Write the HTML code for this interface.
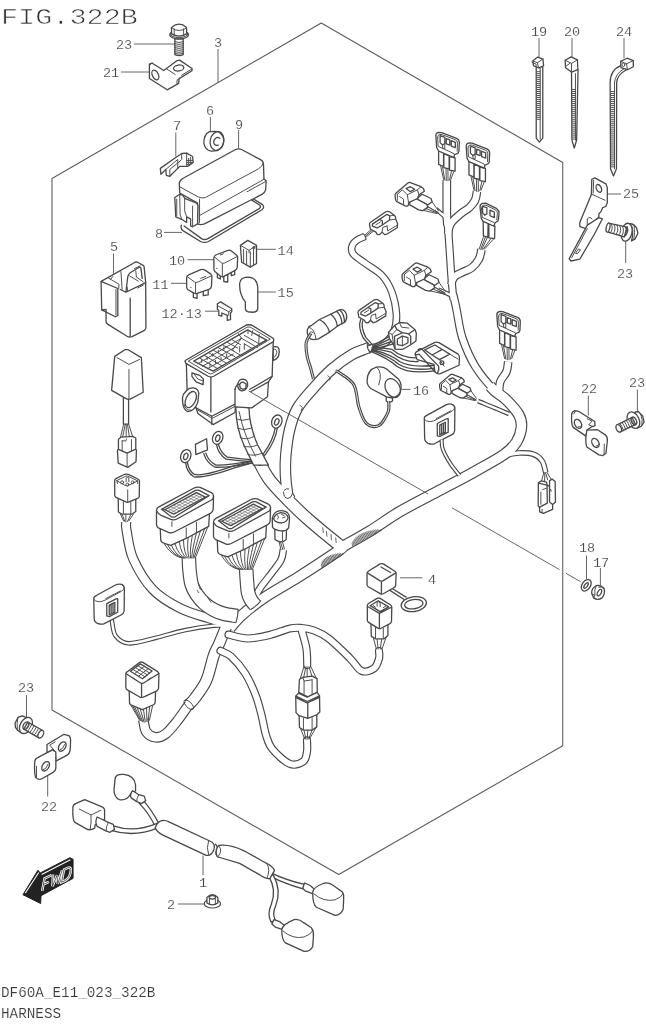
<!DOCTYPE html>
<html><head><meta charset="utf-8">
<style>
html,body{margin:0;padding:0;background:#fff;}
svg{display:block;will-change:transform;}
text{font-family:"Liberation Mono",monospace;fill:#4a4a4a;}
path,ellipse,line,circle,rect,polyline,polygon{vector-effect:non-scaling-stroke;}
.l{font-size:13.5px;text-anchor:middle;stroke:#fff;stroke-width:0.15px;fill:#383838}
.s{fill:none;stroke:#484848;stroke-width:1.3;stroke-linecap:round;stroke-linejoin:round;}
.w{fill:#fff;stroke:#484848;stroke-width:1.3;stroke-linecap:round;stroke-linejoin:round;}
.t{fill:none;stroke:#505050;stroke-width:1.0;stroke-linecap:round;stroke-linejoin:round;}
.ld{fill:none;stroke:#555;stroke-width:0.9;}
</style></head><body>
<svg width="646" height="1024" viewBox="0 0 646 1024">
<rect width="646" height="1024" fill="#fff"/>
<defs>
<g id="c3">
 <path class="t" d="M125 325 L150 440 M140 330 L160 445 M170 350 L172 450 M185 352 L186 450 M215 368 L198 445 M235 370 L208 440"/>
 <path class="w" d="M110 205 V318 L150 335 V225 Z M152 232 V345 L195 355 V250 Z M198 255 V365 L243 372 V265 Z"/>
 <path class="w" d="M88 92 Q84 66 112 60 L135 62 L255 108 Q277 118 277 142 L274 212 Q270 232 252 234 L238 240 L234 264 L110 210 L94 182 Z"/>
 <path class="t" d="M102 102 Q98 80 120 76 L138 78 L243 118 Q262 126 262 146 L260 212 M102 102 L106 172 L236 232 L240 238"/>
 <path class="s" d="M122 86 L160 100 L160 150 L142 162 L122 142 Z M172 110 L200 120 L200 162 L172 152 Z M212 127 L245 140 L245 182 L212 170 Z"/>
 <path class="t" d="M142 162 L142 185 L160 192 L160 150"/>
</g>

<g id="ch">
 <path class="t" d="M345 297 L428 342 M375 250 L432 330 M275 318 L420 352 M332 287 L430 346 M300 300 L425 348"/>
 <path class="w" d="M262 225 L300 196 L372 230 L380 256 L345 282 L270 242 Z"/>
 <path class="w" d="M200 255 L245 228 L338 278 L345 302 L305 328 L272 322 L200 282 Z"/>
 <path class="w" d="M82 205 Q80 195 90 185 L185 105 Q195 98 205 102 L290 135 L310 150 L318 172 L275 200 L262 230 L195 262 L185 290 Q170 295 160 288 L95 255 Q82 245 82 205 Z"/>
 <path class="s" d="M170 150 L205 135 L240 155 L205 175 Z"/>
 <path class="t" d="M100 195 L100 245 M100 195 L140 160 L180 200 L190 262 M180 200 L262 160 L290 135 M262 160 L275 200 M118 215 L150 235 L150 275"/>
</g>
<g id="cg">
 <path class="w" d="M238 235 Q238 225 250 218 L370 135 Q385 128 400 135 L440 165 Q452 175 450 195 L465 230 L462 265 L380 315 L360 320 L340 300 L320 320 L300 318 L290 300 L245 275 Z"/>
 <path class="s" d="M262 235 L318 197 L342 208 L342 242 L300 266 L262 252 Z M318 197 L378 157 L402 168 L400 202 L342 242"/>
 <path class="t" d="M290 240 L325 218 M402 168 L440 165 M400 202 L450 195 M380 250 L385 290 L460 245 M340 300 L345 262 L380 250"/>
</g>

<g id="bx">
 <path class="w" d="M75 195 Q72 175 95 165 L250 80 Q275 68 300 75 Q322 85 322 110 L320 290 Q318 310 295 322 L160 392 Q135 402 105 390 Q78 378 78 350 Z"/>
 <path class="t" d="M75 195 Q85 215 120 215 Q150 212 170 200 L300 130 Q320 115 322 100 M172 190 L290 128"/>
 <path class="s" d="M180 230 L255 192 L268 190 L268 300 L200 335 L180 330 Z M200 242 L245 220 L245 300 L200 320 Z M215 240 V312 M230 232 V305"/>
</g>

<g id="bc">
 <path class="t" d="M78 345 Q115 408 172 420 M95 350 Q127 410 179 420 M115 352 Q140 411 185 420 M135 345 Q153 408 192 420 M158 335 Q168 402 198 420 M180 322 Q182 396 205 420 M205 310 Q198 390 211 420 M228 298 Q213 384 218 420 M250 285 Q227 378 224 420 M272 272 Q241 371 231 420 M295 260 Q256 365 237 420 M312 250 Q268 360 244 420 "/>
 <path class="w" d="M55 255 L58 325 Q62 338 80 342 L112 352 L200 312 L255 282 L316 250 L320 180 Z"/>
 <path class="t" d="M195 258 V312 M250 228 V284"/>
 <path class="w" d="M35 165 Q35 152 48 145 L240 42 Q255 35 270 40 L330 68 Q342 75 342 88 L340 160 Q338 172 325 180 L130 280 Q115 288 100 282 L45 258 Q35 252 35 240 Z"/>
 <path class="s" d="M38 170 Q45 185 60 190 L112 212 Q130 218 145 210 L335 105 Q342 98 342 88"/>
 <path class="s" d="M62 158 L245 56 Q255 52 265 56 L318 84 L135 198 Q125 202 115 198 Z"/>
 <path class="s" d="M80 160 L250 68 L298 92 L128 184 Z"/>
 <path d="M96 168 L266 76 M112 176 L282 84 M95 152 L143 176 M111 143 L159 167 M126 135 L174 159 M142 127 L190 151 M157 118 L205 142 M173 110 L221 134 M188 101 L236 125 M204 93 L252 117 M219 85 L267 109 M235 76 L283 100 " fill="none" stroke="#707070" stroke-width="0.7"/>
 <path class="t" d="M118 225 V250 M300 92 L318 84 M80 160 L62 158"/>
</g>
</defs>

<!-- TITLE -->
<text x="1" y="24.3" font-size="28.2" transform="translate(1,24.3) scale(1.012,0.806) translate(-1,-24.3)" style="fill:#333;stroke:#fff;stroke-width:0.8px">FIG.322B</text>
<text x="1" y="996.5" font-size="14.3" style="stroke:#fff;stroke-width:0.15px;fill:#383838">DF60A_E11_023_322B</text>
<text x="1" y="1017.5" font-size="14.3" style="stroke:#fff;stroke-width:0.15px;fill:#383838">HARNESS</text>
<!-- HEX -->
<g id="hex" class="s" style="stroke:#5a5a5a;stroke-width:1.05">
<path d="M321.25 23 L52 178.5 L52 710 L338.75 874.5 L562.75 745.75 L562.75 162.5 Z"/>
</g>
<g id="cables">
<path d="M369.0 347.5 C368.6 347.7 369.3 347.3 366.5 348.5 C363.7 349.7 357.8 351.1 352.0 354.5 C346.2 357.9 338.2 363.6 332.0 369.0 C325.8 374.4 320.2 380.5 314.5 387.0 C308.8 393.5 301.7 400.8 297.5 408.0 C293.3 415.2 291.4 422.2 289.5 430.0 C287.6 437.8 286.5 447.5 285.8 455.0 C285.1 462.5 285.2 468.6 285.5 475.0 C285.8 481.4 286.8 489.5 287.5 493.5 C288.2 497.5 289.6 498.1 290.0 499.0" fill="none" stroke="#484848" stroke-width="11.65" stroke-linecap="butt"/>
<path d="M126.3 522.0 C126.3 523.3 125.3 523.9 126.5 530.0 C127.7 536.1 128.8 548.9 133.2 558.8 C137.6 568.7 144.9 581.2 152.7 589.4 C160.4 597.6 170.4 603.2 179.7 608.0 C189.0 612.8 200.1 615.5 208.5 618.2 C216.9 620.9 226.4 623.0 230.0 624.0" fill="none" stroke="#484848" stroke-width="10.15" stroke-linecap="butt"/>
<path d="M110.8 617.0 C111.0 617.7 111.1 617.9 111.9 621.0 C112.7 624.1 112.8 632.2 115.6 635.9 C118.4 639.6 121.8 643.0 128.6 643.3 C135.4 643.6 147.1 639.9 156.4 637.7 C165.7 635.5 174.7 632.3 184.3 630.3 C193.9 628.3 206.4 626.4 214.0 625.7 C221.6 625.0 227.3 626.0 230.0 626.0" fill="none" stroke="#484848" stroke-width="4.65" stroke-linecap="butt"/>
<path d="M342.0 547.0 C341.4 547.6 345.8 545.7 338.6 550.6 C331.4 555.5 311.4 568.8 299.0 576.6 C286.6 584.4 273.8 591.2 264.3 597.6 C254.8 604.0 247.7 609.9 242.0 615.0 C236.3 620.1 232.0 625.8 230.0 628.0" fill="none" stroke="#484848" stroke-width="11.65" stroke-linecap="butt"/>
<path d="M257.0 455.0 C257.3 456.1 256.9 457.2 259.0 461.4 C261.1 465.6 264.8 473.5 269.7 480.0 C274.6 486.5 281.9 493.9 288.3 500.4 C294.7 506.9 299.8 511.9 307.8 519.0 C315.9 526.1 330.7 538.3 336.6 543.0 C342.5 547.7 341.9 546.3 343.0 547.0" fill="none" stroke="#484848" stroke-width="13.15" stroke-linecap="butt"/>
<path d="M283.4 549.5 C283.0 551.2 282.9 556.1 281.0 560.0 C279.1 563.9 275.0 568.5 271.7 573.0 C268.4 577.5 263.9 582.7 261.1 586.7 C258.3 590.7 256.0 595.3 255.0 597.0" fill="none" stroke="#484848" stroke-width="7.65" stroke-linecap="butt"/>
<path d="M446.8 180.0 C446.8 185.7 446.7 206.3 446.8 214.0 C446.9 221.7 447.5 224.0 447.6 226.0" fill="none" stroke="#484848" stroke-width="8.75" stroke-linecap="butt"/>
<path d="M447.3 220.0 C447.5 221.8 447.9 226.1 448.3 231.0 C448.7 235.9 449.1 242.3 449.6 249.5 C450.1 256.7 450.7 267.6 451.2 274.3 C451.7 281.1 452.1 285.7 452.5 290.0 C452.9 294.3 453.4 298.3 453.6 300.0" fill="none" stroke="#484848" stroke-width="8.15" stroke-linecap="butt"/>
<path d="M453.0 294.0 C453.2 295.0 453.8 297.0 454.5 300.0 C455.2 303.0 455.7 305.7 457.0 312.0 C458.3 318.3 459.3 328.9 462.4 338.0 C465.5 347.1 470.0 357.9 475.5 366.8 C481.0 375.7 490.2 386.0 495.4 391.5 C500.6 397.0 504.6 398.6 506.5 400.0" fill="none" stroke="#484848" stroke-width="8.55" stroke-linecap="butt"/>
<path d="M435.8 209.0 C437.1 210.1 441.4 213.6 443.3 215.3 C445.2 217.0 446.4 218.4 447.0 219.0" fill="none" stroke="#484848" stroke-width="4.65" stroke-linecap="butt"/>
<path d="M438.3 289.6 C440.1 290.4 446.9 293.4 449.4 294.5 C451.8 295.6 452.4 295.8 453.0 296.0" fill="none" stroke="#484848" stroke-width="4.65" stroke-linecap="butt"/>
<path d="M478.0 401.0 C480.8 402.2 489.8 405.8 495.0 408.0 C500.2 410.2 506.7 413.0 509.0 414.0" fill="none" stroke="#484848" stroke-width="4.65" stroke-linecap="butt"/>
<path d="M490.0 386.0 C490.9 386.9 492.6 389.2 495.4 391.5 C498.1 393.8 502.6 396.1 506.5 400.0 C510.4 403.9 516.4 410.4 518.9 414.9 C521.4 419.4 521.8 422.7 521.4 427.2 C521.0 431.7 519.3 437.6 516.4 442.1 C513.5 446.7 511.0 449.6 504.0 454.5 C497.0 459.4 485.4 465.6 474.3 471.8 C463.2 478.0 449.6 485.0 437.2 491.6 C424.8 498.2 411.2 504.9 400.0 511.5 C388.8 518.1 379.7 525.1 370.0 531.0 C360.3 536.9 346.7 544.3 342.0 547.0" fill="none" stroke="#484848" stroke-width="11.65" stroke-linecap="butt"/>
<path d="M448.2 234.0 C448.3 233.2 448.2 230.9 448.8 229.0 C449.4 227.1 449.5 225.1 451.5 222.5 C453.5 219.9 457.9 216.1 460.9 213.6 C463.9 211.1 467.1 209.8 469.5 207.5 C471.9 205.2 473.9 202.7 475.2 200.0 C476.4 197.3 476.7 192.8 477.0 191.3" fill="none" stroke="#484848" stroke-width="8.65" stroke-linecap="butt"/>
<path d="M451.5 285.0 C451.7 284.2 451.8 281.6 452.5 280.0 C453.2 278.4 454.2 276.8 456.0 275.5 C457.8 274.2 460.3 273.3 463.0 272.0 C465.7 270.7 469.3 269.7 472.0 267.5 C474.7 265.3 477.4 262.0 479.0 259.0 C480.6 256.0 481.1 251.1 481.5 249.5" fill="none" stroke="#484848" stroke-width="8.65" stroke-linecap="butt"/>
<path d="M508.2 361.8 C507.9 363.4 507.8 368.4 506.5 371.7 C505.2 375.0 501.6 377.9 500.3 381.6 C499.1 385.3 499.2 391.9 499.0 394.0" fill="none" stroke="#484848" stroke-width="8.65" stroke-linecap="butt"/>
<path d="M505.0 455.5 C507.3 455.1 513.9 453.2 518.6 453.0 C523.3 452.8 529.5 452.9 533.4 454.2 C537.3 455.5 540.0 457.9 542.1 461.0 C544.2 464.1 545.2 470.8 545.8 472.8" fill="none" stroke="#484848" stroke-width="5.65" stroke-linecap="butt"/>
<path d="M189.5 704.0 C189.2 704.3 190.1 703.2 188.0 706.0 C185.9 708.8 180.9 716.4 177.2 721.0 C173.5 725.6 169.2 731.2 165.6 733.9 C162.0 736.6 158.7 737.6 155.5 737.3 C152.3 737.0 148.3 734.9 146.3 731.9 C144.3 728.9 143.8 721.6 143.3 719.5" fill="none" stroke="#484848" stroke-width="10.65" stroke-linecap="butt"/>
<path d="M229.0 622.0 C228.4 623.0 227.4 624.1 225.7 627.9 C224.0 631.7 220.7 640.0 218.7 644.6 C216.7 649.2 215.8 649.7 213.7 655.7 C211.6 661.7 209.3 673.8 206.2 680.8 C203.1 687.8 197.9 694.0 195.0 698.0 C192.1 702.0 189.8 703.7 188.8 704.8" fill="none" stroke="#484848" stroke-width="12.15" stroke-linecap="butt"/>
<path d="M369.0 347.5 C368.6 347.7 369.3 347.3 366.5 348.5 C363.7 349.7 357.8 351.1 352.0 354.5 C346.2 357.9 338.2 363.6 332.0 369.0 C325.8 374.4 320.2 380.5 314.5 387.0 C308.8 393.5 301.7 400.8 297.5 408.0 C293.3 415.2 291.4 422.2 289.5 430.0 C287.6 437.8 286.5 447.5 285.8 455.0 C285.1 462.5 285.2 468.6 285.5 475.0 C285.8 481.4 286.8 489.5 287.5 493.5 C288.2 497.5 289.6 498.1 290.0 499.0" fill="none" stroke="#fff" stroke-width="9.35" stroke-linecap="butt"/>
<path d="M126.3 522.0 C126.3 523.3 125.3 523.9 126.5 530.0 C127.7 536.1 128.8 548.9 133.2 558.8 C137.6 568.7 144.9 581.2 152.7 589.4 C160.4 597.6 170.4 603.2 179.7 608.0 C189.0 612.8 200.1 615.5 208.5 618.2 C216.9 620.9 226.4 623.0 230.0 624.0" fill="none" stroke="#fff" stroke-width="7.85" stroke-linecap="butt"/>
<path d="M110.8 617.0 C111.0 617.7 111.1 617.9 111.9 621.0 C112.7 624.1 112.8 632.2 115.6 635.9 C118.4 639.6 121.8 643.0 128.6 643.3 C135.4 643.6 147.1 639.9 156.4 637.7 C165.7 635.5 174.7 632.3 184.3 630.3 C193.9 628.3 206.4 626.4 214.0 625.7 C221.6 625.0 227.3 626.0 230.0 626.0" fill="none" stroke="#fff" stroke-width="2.35" stroke-linecap="butt"/>
<path d="M342.0 547.0 C341.4 547.6 345.8 545.7 338.6 550.6 C331.4 555.5 311.4 568.8 299.0 576.6 C286.6 584.4 273.8 591.2 264.3 597.6 C254.8 604.0 247.7 609.9 242.0 615.0 C236.3 620.1 232.0 625.8 230.0 628.0" fill="none" stroke="#fff" stroke-width="9.35" stroke-linecap="butt"/>
<path d="M257.0 455.0 C257.3 456.1 256.9 457.2 259.0 461.4 C261.1 465.6 264.8 473.5 269.7 480.0 C274.6 486.5 281.9 493.9 288.3 500.4 C294.7 506.9 299.8 511.9 307.8 519.0 C315.9 526.1 330.7 538.3 336.6 543.0 C342.5 547.7 341.9 546.3 343.0 547.0" fill="none" stroke="#fff" stroke-width="10.85" stroke-linecap="butt"/>
<path d="M283.4 549.5 C283.0 551.2 282.9 556.1 281.0 560.0 C279.1 563.9 275.0 568.5 271.7 573.0 C268.4 577.5 263.9 582.7 261.1 586.7 C258.3 590.7 256.0 595.3 255.0 597.0" fill="none" stroke="#fff" stroke-width="5.35" stroke-linecap="butt"/>
<path d="M446.8 180.0 C446.8 185.7 446.7 206.3 446.8 214.0 C446.9 221.7 447.5 224.0 447.6 226.0" fill="none" stroke="#fff" stroke-width="6.45" stroke-linecap="butt"/>
<path d="M447.3 220.0 C447.5 221.8 447.9 226.1 448.3 231.0 C448.7 235.9 449.1 242.3 449.6 249.5 C450.1 256.7 450.7 267.6 451.2 274.3 C451.7 281.1 452.1 285.7 452.5 290.0 C452.9 294.3 453.4 298.3 453.6 300.0" fill="none" stroke="#fff" stroke-width="5.85" stroke-linecap="butt"/>
<path d="M453.0 294.0 C453.2 295.0 453.8 297.0 454.5 300.0 C455.2 303.0 455.7 305.7 457.0 312.0 C458.3 318.3 459.3 328.9 462.4 338.0 C465.5 347.1 470.0 357.9 475.5 366.8 C481.0 375.7 490.2 386.0 495.4 391.5 C500.6 397.0 504.6 398.6 506.5 400.0" fill="none" stroke="#fff" stroke-width="6.25" stroke-linecap="butt"/>
<path d="M435.8 209.0 C437.1 210.1 441.4 213.6 443.3 215.3 C445.2 217.0 446.4 218.4 447.0 219.0" fill="none" stroke="#fff" stroke-width="2.35" stroke-linecap="butt"/>
<path d="M438.3 289.6 C440.1 290.4 446.9 293.4 449.4 294.5 C451.8 295.6 452.4 295.8 453.0 296.0" fill="none" stroke="#fff" stroke-width="2.35" stroke-linecap="butt"/>
<path d="M478.0 401.0 C480.8 402.2 489.8 405.8 495.0 408.0 C500.2 410.2 506.7 413.0 509.0 414.0" fill="none" stroke="#fff" stroke-width="2.35" stroke-linecap="butt"/>
<path d="M490.0 386.0 C490.9 386.9 492.6 389.2 495.4 391.5 C498.1 393.8 502.6 396.1 506.5 400.0 C510.4 403.9 516.4 410.4 518.9 414.9 C521.4 419.4 521.8 422.7 521.4 427.2 C521.0 431.7 519.3 437.6 516.4 442.1 C513.5 446.7 511.0 449.6 504.0 454.5 C497.0 459.4 485.4 465.6 474.3 471.8 C463.2 478.0 449.6 485.0 437.2 491.6 C424.8 498.2 411.2 504.9 400.0 511.5 C388.8 518.1 379.7 525.1 370.0 531.0 C360.3 536.9 346.7 544.3 342.0 547.0" fill="none" stroke="#fff" stroke-width="9.35" stroke-linecap="butt"/>
<path d="M448.2 234.0 C448.3 233.2 448.2 230.9 448.8 229.0 C449.4 227.1 449.5 225.1 451.5 222.5 C453.5 219.9 457.9 216.1 460.9 213.6 C463.9 211.1 467.1 209.8 469.5 207.5 C471.9 205.2 473.9 202.7 475.2 200.0 C476.4 197.3 476.7 192.8 477.0 191.3" fill="none" stroke="#fff" stroke-width="6.35" stroke-linecap="butt"/>
<path d="M451.5 285.0 C451.7 284.2 451.8 281.6 452.5 280.0 C453.2 278.4 454.2 276.8 456.0 275.5 C457.8 274.2 460.3 273.3 463.0 272.0 C465.7 270.7 469.3 269.7 472.0 267.5 C474.7 265.3 477.4 262.0 479.0 259.0 C480.6 256.0 481.1 251.1 481.5 249.5" fill="none" stroke="#fff" stroke-width="6.35" stroke-linecap="butt"/>
<path d="M508.2 361.8 C507.9 363.4 507.8 368.4 506.5 371.7 C505.2 375.0 501.6 377.9 500.3 381.6 C499.1 385.3 499.2 391.9 499.0 394.0" fill="none" stroke="#fff" stroke-width="6.35" stroke-linecap="butt"/>
<path d="M505.0 455.5 C507.3 455.1 513.9 453.2 518.6 453.0 C523.3 452.8 529.5 452.9 533.4 454.2 C537.3 455.5 540.0 457.9 542.1 461.0 C544.2 464.1 545.2 470.8 545.8 472.8" fill="none" stroke="#fff" stroke-width="3.35" stroke-linecap="butt"/>
<path d="M189.5 704.0 C189.2 704.3 190.1 703.2 188.0 706.0 C185.9 708.8 180.9 716.4 177.2 721.0 C173.5 725.6 169.2 731.2 165.6 733.9 C162.0 736.6 158.7 737.6 155.5 737.3 C152.3 737.0 148.3 734.9 146.3 731.9 C144.3 728.9 143.8 721.6 143.3 719.5" fill="none" stroke="#fff" stroke-width="8.35" stroke-linecap="butt"/>
<path d="M229.0 622.0 C228.4 623.0 227.4 624.1 225.7 627.9 C224.0 631.7 220.7 640.0 218.7 644.6 C216.7 649.2 215.8 649.7 213.7 655.7 C211.6 661.7 209.3 673.8 206.2 680.8 C203.1 687.8 197.9 694.0 195.0 698.0 C192.1 702.0 189.8 703.7 188.8 704.8" fill="none" stroke="#fff" stroke-width="9.85" stroke-linecap="butt"/>
<path d="M188.9 558.0 C189.0 560.0 189.0 565.6 189.5 570.0 C190.0 574.4 190.4 580.3 191.7 584.5 C192.9 588.7 194.8 591.8 197.0 595.0 C199.2 598.2 202.0 601.3 204.8 603.8 C207.6 606.3 210.8 608.3 214.0 610.0 C217.2 611.7 220.4 612.9 224.2 613.9 C228.0 614.9 234.9 615.6 237.0 616.0" fill="none" stroke="#484848" stroke-width="14.65" stroke-linecap="butt"/>
<path d="M246.2 569.5 C246.3 571.6 246.7 578.1 247.0 582.0 C247.3 585.9 247.5 590.0 248.2 593.0 C248.9 596.0 249.8 597.9 251.0 600.0 C252.2 602.1 254.8 604.6 255.5 605.5" fill="none" stroke="#484848" stroke-width="14.65" stroke-linecap="butt"/>
<path d="M188.9 558.0 C189.0 560.0 189.0 565.6 189.5 570.0 C190.0 574.4 190.4 580.3 191.7 584.5 C192.9 588.7 194.8 591.8 197.0 595.0 C199.2 598.2 202.0 601.3 204.8 603.8 C207.6 606.3 210.8 608.3 214.0 610.0 C217.2 611.7 220.4 612.9 224.2 613.9 C228.0 614.9 234.9 615.6 237.0 616.0" fill="none" stroke="#fff" stroke-width="12.35" stroke-linecap="butt"/>
<path d="M246.2 569.5 C246.3 571.6 246.7 578.1 247.0 582.0 C247.3 585.9 247.5 590.0 248.2 593.0 C248.9 596.0 249.8 597.9 251.0 600.0 C252.2 602.1 254.8 604.6 255.5 605.5" fill="none" stroke="#fff" stroke-width="12.35" stroke-linecap="butt"/>
<path d="M238.1 609.3 Q238.2 616.2 235.9 622.7" fill="#fff" stroke="#484848" stroke-width="1.1"/>
<path d="M260.7 601.2 Q256.3 606.4 250.3 609.8" fill="#fff" stroke="#484848" stroke-width="1.1"/>
<path d="M228.5 634.6 C231.8 635.2 241.0 638.5 248.0 638.5 C255.0 638.5 263.3 636.5 270.3 634.8 C277.3 633.1 284.8 629.6 290.0 628.5 C295.2 627.4 297.5 627.7 301.5 628.0 C305.5 628.3 309.5 628.8 314.0 630.5 C318.5 632.2 322.7 633.9 328.7 638.5 C334.7 643.1 344.5 652.9 350.0 658.3 C355.5 663.7 357.6 669.2 361.6 670.9 C365.6 672.6 371.1 670.5 374.0 668.4 C376.9 666.3 378.2 661.4 379.0 658.5 C379.8 655.6 379.0 652.2 379.0 651.0" fill="none" stroke="#484848" stroke-width="8.15" stroke-linecap="round"/>
<path d="M301.5 629.8 C302.3 632.9 305.4 642.5 306.4 648.4 C307.3 654.3 307.1 662.2 307.2 665.0" fill="none" stroke="#484848" stroke-width="8.15" stroke-linecap="round"/>
<path d="M220.5 650.8 C222.3 651.8 227.2 652.9 231.3 656.7 C235.4 660.5 241.2 667.1 245.2 673.4 C249.2 679.7 252.8 687.8 255.5 694.7 C258.2 701.6 259.8 708.3 261.5 715.0 C263.2 721.7 264.2 729.3 266.0 735.0 C267.8 740.7 268.4 744.2 272.3 749.0 C276.2 753.8 284.4 761.7 289.6 763.8 C294.8 765.9 300.4 763.4 303.3 761.4 C306.2 759.4 306.4 755.0 307.0 751.5 C307.6 748.0 307.0 742.2 307.0 740.3" fill="none" stroke="#484848" stroke-width="8.15" stroke-linecap="round"/>
<path d="M228.5 634.6 C231.8 635.2 241.0 638.5 248.0 638.5 C255.0 638.5 263.3 636.5 270.3 634.8 C277.3 633.1 284.8 629.6 290.0 628.5 C295.2 627.4 297.5 627.7 301.5 628.0 C305.5 628.3 309.5 628.8 314.0 630.5 C318.5 632.2 322.7 633.9 328.7 638.5 C334.7 643.1 344.5 652.9 350.0 658.3 C355.5 663.7 357.6 669.2 361.6 670.9 C365.6 672.6 371.1 670.5 374.0 668.4 C376.9 666.3 378.2 661.4 379.0 658.5 C379.8 655.6 379.0 652.2 379.0 651.0" fill="none" stroke="#fff" stroke-width="5.85" stroke-linecap="round"/>
<path d="M301.5 629.8 C302.3 632.9 305.4 642.5 306.4 648.4 C307.3 654.3 307.1 662.2 307.2 665.0" fill="none" stroke="#fff" stroke-width="5.85" stroke-linecap="round"/>
<path d="M220.5 650.8 C222.3 651.8 227.2 652.9 231.3 656.7 C235.4 660.5 241.2 667.1 245.2 673.4 C249.2 679.7 252.8 687.8 255.5 694.7 C258.2 701.6 259.8 708.3 261.5 715.0 C263.2 721.7 264.2 729.3 266.0 735.0 C267.8 740.7 268.4 744.2 272.3 749.0 C276.2 753.8 284.4 761.7 289.6 763.8 C294.8 765.9 300.4 763.4 303.3 761.4 C306.2 759.4 306.4 755.0 307.0 751.5 C307.6 748.0 307.0 742.2 307.0 740.3" fill="none" stroke="#fff" stroke-width="5.85" stroke-linecap="round"/>
<path d="M364.8 236.5 C363.4 237.2 358.7 238.8 356.5 240.5 C354.3 242.2 352.3 244.7 351.8 247.0 C351.3 249.3 351.4 251.7 353.6 254.4 C355.8 257.1 360.1 259.5 364.8 263.0 C369.5 266.5 377.5 270.7 382.0 275.5 C386.5 280.3 389.4 285.6 391.8 292.0 C394.2 298.4 396.0 307.3 396.4 313.8 C396.8 320.3 396.1 326.0 394.0 331.0 C391.9 336.0 388.2 340.7 384.0 343.6 C379.8 346.5 371.5 347.7 369.0 348.5" fill="none" stroke="#484848" stroke-width="7.65" stroke-linecap="butt"/>
<path d="M364.8 236.5 C363.4 237.2 358.7 238.8 356.5 240.5 C354.3 242.2 352.3 244.7 351.8 247.0 C351.3 249.3 351.4 251.7 353.6 254.4 C355.8 257.1 360.1 259.5 364.8 263.0 C369.5 266.5 377.5 270.7 382.0 275.5 C386.5 280.3 389.4 285.6 391.8 292.0 C394.2 298.4 396.0 307.3 396.4 313.8 C396.8 320.3 396.1 326.0 394.0 331.0 C391.9 336.0 388.2 340.7 384.0 343.6 C379.8 346.5 371.5 347.7 369.0 348.5" fill="none" stroke="#fff" stroke-width="5.35" stroke-linecap="butt"/>
<path d="M363.4 233.6 Q365.9 236.0 366.2 239.4" fill="#fff" stroke="#484848" stroke-width="1.1"/>
</g>
<!-- LABELS -->
<g id="labels" class="l">
<text x="124" y="49">23</text>
<text x="111" y="77">21</text>
<text x="218" y="47">3</text>
<text x="210" y="115">6</text>
<text x="177" y="130">7</text>
<text x="239" y="129">9</text>
<text x="159" y="238">8</text>
<text x="114" y="251">5</text>
<text x="177" y="265">10</text>
<text x="285.7" y="254.5">14</text>
<text x="160.4" y="289">11</text>
<text x="285.7" y="296.7">15</text>
<text x="181.7" y="317.7">12·13</text>
<text x="421" y="395">16</text>
<text x="539" y="36">19</text>
<text x="572" y="36">20</text>
<text x="624" y="36">24</text>
<text x="631" y="198">25</text>
<text x="625" y="278">23</text>
<text x="589" y="393">22</text>
<text x="637" y="387">23</text>
<text x="587" y="552">18</text>
<text x="601" y="567">17</text>
<text x="432" y="584">4</text>
<text x="26" y="692">23</text>
<text x="49" y="811">22</text>
<text x="203" y="887">1</text>
<text x="171" y="909">2</text>
</g>
<!-- LEADERS -->
<g id="leaders" class="ld">
<path d="M401.5 389.4 H410.5 M400 577.8 H422.3"/>
<path d="M113.5 253.5 V273.5"/>
<path d="M187.6 259.7 H214 M171 283.3 H186.7 M256.5 249.3 H275.8 M257.7 292 H275.8 M205 311.2 H218"/>
<path d="M210.4 117 V131 M175.8 132.5 V156.5 M238.6 130 V148.5 M164 232.4 H182"/>
<path d="M203 855.5 V875 M178 904 H205"/>
<path d="M26.5 695 V717 M47.7 775 V796.5"/>
<path d="M586.5 555.5 V579 M600.4 568 V586"/>
<path d="M588.3 395.5 V415.5 M637.4 389.5 V411"/>
<path d="M607.5 194 H621 M625.7 241 V263"/>
<path d="M539 38 V57 M572 38 V57 M624 38 V58"/>
<path d="M134 44 H175 M121 72 H149 M218 49 V82"/>
</g>
<!-- PARTS -->
<!-- ring terminals, tag : zoom region [175,410,295,530] scale 5.383 -->
<g transform="translate(175,410) scale(0.18576)">
 <g class="s">
 <path d="M57 282 Q62 335 100 358 Q150 372 320 312 L432 280 M67 282 Q72 325 105 347 Q150 360 320 300 L430 272"/>
 <path d="M155 235 Q170 285 215 308 Q300 310 432 280 M166 232 Q180 275 220 297 Q300 298 430 270"/>
 <path d="M223 185 Q232 235 275 265 Q360 278 432 278 M234 185 Q244 228 282 254 Q360 266 430 268"/>
 <path d="M540 95 Q528 165 478 232 L442 270 M551 97 Q540 168 488 238 L450 275"/>
 </g>
 <path class="w" d="M110 185 L170 155 L175 215 L112 240 Z"/>
 <ellipse class="w" cx="58" cy="248" rx="27" ry="36" transform="rotate(20 58 248)" style="stroke-width:1.3"/>
 <ellipse class="s" cx="58" cy="250" rx="11" ry="18" transform="rotate(20 58 250)"/>
 <ellipse class="w" cx="230" cy="150" rx="27" ry="36" transform="rotate(20 230 150)" style="stroke-width:1.3"/>
 <ellipse class="s" cx="230" cy="152" rx="11" ry="18" transform="rotate(20 230 152)"/>
 <ellipse class="w" cx="548" cy="62" rx="27" ry="36" transform="rotate(20 548 62)" style="stroke-width:1.3"/>
 <ellipse class="s" cx="548" cy="64" rx="11" ry="18" transform="rotate(20 548 64)"/>
 <path class="s" d="M435 268 Q455 262 470 275 Q475 292 455 298 Q435 295 435 268 Z"/>
</g>
<!-- small 1-pin connector : zoom region [250,495,330,595] scale 8.075 -->
<g transform="translate(250,495) scale(0.12384)">
 <path class="t" d="M235 380 L250 440 M262 378 L278 435 M247 382 L264 438"/>
 <path class="w" d="M200 275 L202 360 Q230 385 270 375 L292 360 L295 280 Z"/>
 <path class="t" d="M262 295 V375"/>
 <path class="w" d="M180 210 Q175 160 215 135 Q260 115 300 140 Q325 165 318 210 L312 265 Q290 295 250 290 Q200 285 182 262 Z"/>
 <path class="s" d="M190 192 Q200 152 250 142 Q300 146 308 182 Q300 216 255 226 Q205 226 190 192 Z"/>
 <path class="t" d="M225 165 Q235 180 225 195 M255 158 L275 165 M262 185 L285 178"/>
</g>

<!-- 12-pin connector : zoom region [110,650,190,750] scale 8.075 -->
<g transform="translate(110,650) scale(0.12384)">
 <path class="t" d="M185 455 L245 570 M200 462 L255 575 M220 470 L265 580 M245 478 L275 582 M270 478 L285 582 M295 468 L298 578 M320 458 L308 575 M345 445 L318 568 M170 448 L238 565"/>
 <path class="w" d="M155 330 L158 430 Q160 440 172 445 L262 482 L355 440 Q365 432 365 420 L368 330 Z"/>
 <path class="w" d="M128 195 Q128 182 140 175 L240 100 Q252 94 265 100 L385 175 Q395 182 395 195 L392 310 Q390 322 378 330 L270 380 Q255 386 240 380 L140 322 Q128 315 128 300 Z"/>
 <path class="s" d="M165 172 L245 112 L340 170 L262 232 Z M130 192 L250 268 Q258 272 268 268 L395 190 M255 275 V378"/>
 <path class="t" d="M197 192 L277 131 M230 212 L308 151 M185 157 L282 216 M205 142 L301 201 M225 127 L320 186  M180 222 L205 238 M305 240 L330 225"/>
</g>
<!-- part 4 + connector K : zoom region [350,545,450,670] scale 6.46 -->
<g transform="translate(350,545) scale(0.1548)">
 <path class="s" d="M245 285 L350 352 M262 275 L362 337"/>
 <ellipse class="w" cx="412" cy="382" rx="82" ry="48" transform="rotate(-8 412 382)"/>
 <ellipse class="s" cx="412" cy="382" rx="60" ry="30" transform="rotate(-8 412 382)"/>
 <path class="w" d="M110 185 Q110 175 120 168 L195 122 Q205 118 215 122 L290 170 Q298 176 298 186 L295 260 Q293 270 283 276 L215 315 Q205 320 195 314 L118 270 Q110 264 110 255 Z"/>
 <path class="s" d="M112 180 L195 232 Q203 236 212 232 L296 180 M203 238 V314 M200 142 L262 178"/>
 <path class="t" d="M150 598 L170 670 M175 608 L182 672 M205 608 L195 672 M235 592 L208 668"/>
 <path class="w" d="M135 505 L138 590 L165 606 L220 606 L245 585 L245 505 Z"/>
 <path class="t" d="M165 530 V602 M215 535 V602"/>
 <path class="w" d="M112 392 Q112 382 122 376 L175 345 Q185 340 195 345 L262 388 Q270 394 270 404 L268 495 Q266 505 256 510 L200 538 Q190 542 180 537 L120 500 Q112 495 112 485 Z"/>
 <path class="s" d="M130 392 L182 360 L250 400 L195 430 Z M114 397 L190 442 L268 402 M190 442 V537"/>
 <path class="t" d="M175 395 V372 Q185 362 195 372 V398 M150 392 L165 402 M215 405 L230 396"/>
</g>
<!-- connector L : zoom region [270,660,350,760] scale 8.075 -->
<g transform="translate(270,660) scale(0.12384)">
 <path class="t" d="M275 50 L245 150 M290 55 L268 160 M300 55 L300 180 M315 55 L340 135 M328 50 L375 150 M245 550 L280 635 M275 568 L290 640 M305 568 L300 640 M340 566 L312 638 M372 545 L322 632"/>
 <path class="w" d="M238 155 L265 140 L340 130 L380 150 L382 262 L310 300 L232 262 Z"/>
 <path class="t" d="M275 170 V275 M340 160 V280 M265 140 L275 170 L340 160"/>
 <path class="w" d="M235 445 L238 545 L270 566 L340 566 L378 540 L378 440 Z"/>
 <path class="t" d="M270 470 V562 M340 465 V562"/>
 <path class="w" d="M208 292 L230 268 L300 300 L380 262 L400 290 L402 420 L378 442 L305 472 L235 450 L210 425 Z"/>
 <path class="s" d="M208 292 L300 335 L400 290 M215 306 L300 347 L395 304 M305 347 V470"/>
</g>

<use href="#bc" transform="translate(150,480) scale(0.18576)"/>
<use href="#bc" transform="translate(207,491.5) scale(0.18576)"/>

<!-- sensor : zoom region [290,290,370,390] scale 8.075 -->
<g transform="translate(290,290) scale(0.12384)">
 <path class="w" d="M140 320 Q150 290 175 285 L235 240 L400 160 Q440 150 455 195 Q465 235 440 262 L385 290 L320 340 L230 395 Q190 405 165 395 Q135 370 140 320 Z"/>
 <path class="s" d="M240 240 Q300 270 320 342 M330 195 Q375 230 382 292 M375 172 Q415 205 420 272 M402 162 Q440 195 440 262"/>
 <path class="t" d="M150 300 Q200 310 210 398 M162 340 Q175 330 188 345"/>
</g>
<use href="#bx" transform="translate(415,395) scale(0.12384)"/>
<use href="#bx" transform="translate(84.5,575.1) scale(0.12384)"/>
<!-- connector M : zoom region [500,440,580,540] scale 8.075 -->
<g transform="translate(500,440) scale(0.12384)">
 <path class="t" d="M355 262 L335 330 M368 265 L385 322 M380 262 L410 312 M362 264 L360 335"/>
 <path class="w" d="M310 345 L335 330 L375 340 L380 365 L400 375 L400 330 L420 315 L445 335 L448 500 L425 520 L425 560 L350 592 L320 580 L320 545 L308 530 Z"/>
 <path class="s" d="M380 365 L382 510 L320 542 M400 375 L400 500 L425 520 M310 348 L380 365"/>
 <path class="t" d="M330 420 V520 M345 400 L375 390 M340 560 V585 M400 400 H412 V415"/>
</g>

<!-- harness connectors -->
<use href="#c3" transform="translate(486,304) scale(0.12384)"/>
<g transform="translate(420,200) scale(0.12384)">
 <path class="t" d="M515 292 L478 395 M530 296 L490 398 M545 300 L500 398 M575 308 L510 398 M598 310 L522 395"/>
 <path class="w" d="M510 165 L512 290 L548 300 L550 185 Z M556 190 L556 305 L602 312 L605 210 Z"/>
 <path class="w" d="M485 60 Q482 35 505 28 L530 25 L620 70 Q640 85 638 110 L632 165 L605 185 L598 212 L510 172 L495 150 Z"/>
 <path class="t" d="M497 68 Q495 45 515 42 L532 42 L610 80 Q626 90 625 110 L620 160 M497 68 L502 140 L598 182"/>
 <path class="s" d="M505 52 L540 62 L540 112 L522 122 L505 102 Z M565 82 L600 97 L600 142 L565 127 Z"/>
</g>
<use href="#ch" transform="translate(385,170) scale(0.12384)"/>
<use href="#ch" transform="translate(391.9,250.5) scale(0.12384)"/>
<use href="#ch" transform="translate(431,363.7) scale(0.105)"/>
<path class="t" transform="translate(340,195) scale(0.12384)" d="M250 280 L205 320 M270 292 L215 336 M260 286 L210 328"/>
<use href="#cg" transform="translate(340,195) scale(0.12384)"/>
<use href="#cg" transform="translate(328.5,283.1) scale(0.12384)"/>
<!-- H wires, I, J, 16 : zoom region [355,290,475,410] scale 5.383 -->
<g transform="translate(355,290) scale(0.18576)">
 <path class="s" d="M30 160 Q15 200 45 260 L80 298 M42 165 Q30 200 58 255 L90 290"/>
 <path class="s" d="M185 250 L95 300 M192 262 L98 306 M200 275 L100 312 M208 290 L100 318"/>
 <path class="s" d="M335 365 Q260 370 200 320 L95 305 M340 385 Q260 390 195 335 L90 312 M430 405 Q300 420 240 385 Q200 350 90 318 M430 420 Q300 440 235 400 Q190 360 88 324 M432 435 Q290 455 225 410 Q185 372 85 330"/>
 <path class="w" d="M180 228 L215 190 L240 175 L280 178 L322 212 L330 232 L328 275 L300 295 L255 320 L215 318 L208 295 L185 262 Z"/>
 <path class="s" d="M215 192 L225 212 L255 230 L290 236 L322 214 M212 250 L255 230 M290 238 L300 250 L300 292 M212 250 L216 316 M228 264 L255 248 L285 256 L285 284 L255 300 L228 294 Z"/>
 <path class="t" d="M180 228 L200 240 L225 212 M200 240 L208 295 M240 176 L250 200 L290 205 M255 248 V300"/>
 <path class="w" d="M325 350 Q320 340 335 330 L430 282 Q440 278 452 283 L555 345 Q565 355 562 370 L560 405 L460 450 Q440 455 430 440 L425 400 L335 375 Z"/>
 <path class="s" d="M375 322 L430 296 L470 320 L415 350 Z M415 350 L470 320 L510 345 L455 375 Z M340 322 Q350 312 362 320 L450 410 Q455 430 445 445 M325 350 L345 345 L430 440"/>
 <circle class="s" cx="468" cy="392" r="10"/>
 <path class="t" d="M510 345 L555 372 M455 375 L480 410"/>
 <path class="w" d="M168 570 L168 598 Q185 612 202 598 L202 575 Z"/>
 <path class="w" d="M65 490 Q65 430 115 415 Q150 410 170 425 L235 480 Q255 510 245 545 Q230 580 195 580 L170 575 L85 530 Q65 515 65 490 Z"/>
 <ellipse class="s" cx="203" cy="528" rx="38" ry="54" transform="rotate(-28 203 528)"/>
 <path class="t" d="M118 416 Q150 445 128 510"/>
</g>

<!-- connectors A,B top : zoom region [425,125,505,225] scale 8.075 -->
<g transform="translate(425,125) scale(0.12384)">
 <use href="#c3"/>
 <use href="#c3" transform="translate(245,85)"/>
</g>

<!-- fuse box : zoom region [170,315,290,465] scale 5.383 -->
<g id="fusebox" transform="translate(170,315) scale(0.18576)">
 <path class="w" d="M555 172 Q590 162 588 200 Q586 238 556 244 Z"/>
 <path class="t" d="M556 185 Q575 180 575 202 Q574 225 556 230"/>
 <path class="w" d="M355 490 Q352 600 400 705 L450 808 L530 808 L472 700 Q428 600 425 500 Z"/>
 <path class="t" d="M358 560 Q390 575 428 560 M365 610 Q398 625 436 610 M378 660 Q410 675 450 655 M395 705 Q430 718 470 700 M418 750 Q450 762 495 745 M372 520 Q395 640 460 760"/>
 <path class="w" d="M82 250 L88 262 L92 400 L140 500 L150 530 L232 590 L350 525 L352 495 L440 500 L525 440 L530 360 L550 330 L556 135 L440 55 L410 55 Z"/>
 <path class="w" d="M82 245 L410 55 Q425 50 440 55 L555 125 Q562 135 555 145 L235 330 Q220 338 205 330 L88 262 Q80 255 82 245 Z"/>
 <path class="t" d="M100 247 L415 66 Q425 62 435 67 L540 130 L228 315 Q220 320 212 316 Z"/>
 <path class="s" d="M128 248 L418 80 L520 135 L232 302 Z"/>
 <path class="t" d="M150 262 L385 125 M175 276 L352 172 M200 290 L340 210 M160 232 L255 288 M185 218 L280 274 M210 204 L305 260 M235 190 L330 246 M260 176 L350 225 M285 162 L345 195 M310 148 L365 178 M335 134 L380 160 M368 100 L385 125 L470 175 M385 125 L335 190 L385 220 L450 185 L400 155 M400 110 L480 155 L520 135 M445 85 L440 110 M480 105 L478 150 M420 80 V100 M375 170 V200 M400 155 V185 M170 240 V255 M200 225 V240 M230 208 V222 M260 190 V205 M290 172 V188 M215 262 V276 M245 245 V260 M275 228 V242 M305 210 V225"/>
 <path class="w" d="M68 470 Q60 420 105 395 Q150 385 155 420 L150 470 Q130 520 95 520 Q72 510 68 470 Z"/>
 <ellipse class="s" cx="112" cy="455" rx="26" ry="46" transform="rotate(25 112 455)"/>
 <path class="t" d="M75 480 Q85 515 110 512"/>
 <path class="s" d="M220 335 V522 M140 500 L225 545 L350 480 M225 545 V588 M430 400 L550 330 M436 412 L530 360 M350 400 V495"/>
 <path class="t" d="M150 512 L228 556 L350 492"/>
 <path class="s" d="M118 312 L160 325 L180 345 L178 375 L140 360 L118 330 Z"/>
 <path class="t" d="M130 318 L150 345 L178 355"/>
 <path class="w" d="M365 370 Q370 345 395 345 Q420 350 418 380 Q410 410 385 408 Q362 400 365 370 Z"/>
 <path class="s" d="M375 375 Q380 360 395 362 L410 372 L408 395 L392 400 L378 392 Z M350 400 Q355 375 372 372"/>
</g>

<!-- connector under part5 cap : zoom region [85,390,165,490] scale 8.075 -->
<g transform="translate(85,390) scale(0.12384)">
 <path class="w" d="M310 60 V275 H352 V60 Z"/>
 <path class="t" d="M312 275 L285 390 M325 278 L300 400 M333 280 L332 410 M352 275 L388 385 M343 280 L362 400"/>
 <path class="w" d="M270 398 L292 380 L385 374 L410 388 L410 490 L340 522 L270 492 Z"/>
 <path class="t" d="M300 410 V500 M375 400 V505 M300 410 L330 412 L335 395"/>
 <path class="w" d="M262 492 Q262 480 275 482 L340 510 L405 480 Q415 478 415 490 L412 580 L345 625 L268 590 Z"/>
 <path class="t" d="M340 512 V620"/>
</g>
<!-- connector lower : zoom region [85,465,165,565] scale 8.075 -->
<g transform="translate(85,465) scale(0.12384)">
 <path class="t" d="M285 395 L312 452 M300 400 L322 456 M330 400 L330 460 M392 395 L353 452 M370 400 L343 456"/>
 <path class="w" d="M268 270 L270 380 L295 396 L380 396 L410 376 L410 270 Z"/>
 <path class="t" d="M310 296 V392 M370 296 V392"/>
 <path class="w" d="M240 125 Q240 115 250 110 L320 75 Q340 70 355 78 L430 115 Q440 120 440 130 L438 255 Q436 265 425 270 L350 300 Q340 302 330 298 L250 262 Q240 255 240 245 Z"/>
 <path class="t" d="M258 125 L330 90 L345 90 L425 128 L345 168 L330 166 Z M345 200 V296 M258 125 L262 150 M425 128 V150"/>
 <circle class="t" cx="300" cy="140" r="12"/><circle class="t" cx="385" cy="140" r="12"/><circle class="t" cx="342" cy="158" r="12"/>
 <path class="t" d="M332 135 V105 Q343 95 354 105 V135"/>
</g>

<!-- part 5 : zoom region [85,235,165,335] scale 8.075 -->
<g transform="translate(85,235) scale(0.12384)">
 <path class="w" d="M170 600 L170 700 Q172 715 185 722 L340 818 Q360 828 380 820 L480 770 Q492 762 492 745 L490 385 L478 262 Q478 250 470 245 L420 218 L405 220 L130 375 L135 605 Z"/>
 <path class="s" d="M130 375 L265 432 L265 650 L245 660 L135 605 M285 440 L330 462 L490 385 M330 462 L345 340 Q348 315 365 305 L435 262 Q450 255 452 272 L462 350 M365 510 V815"/>
 <path class="t" d="M250 440 V645 M185 345 L275 398 L272 432 M205 360 L225 335 M290 295 L300 440 M400 270 L445 250 M410 290 L415 340 L470 378 M360 330 L430 372 M340 420 L345 455 M425 428 L470 405"/>
</g>
<g transform="translate(85,300) scale(0.12384)">
 <path class="w" d="M240 455 L325 400 L345 400 L455 465 L470 745 L365 800 L340 800 L215 730 Z"/>
 <path class="t" d="M258 465 L355 520 L440 480 M355 560 V795"/>
</g>

<!-- relays 10 11, fuse 14, cover 15, fuse 12-13 : zoom region [150,230,310,330] scale 4.0375 -->
<g transform="translate(150,230) scale(0.24768)">
 <path class="w" d="M272 172 V192 L284 198 V180 Z M298 184 V208 L314 210 V180 Z M328 166 V184 L342 180 V160 Z"/>
 <path class="w" d="M258 112 Q258 104 268 100 L315 82 Q322 80 330 86 L350 102 Q354 106 354 112 L352 152 Q350 160 342 164 L296 188 Q290 190 284 186 L262 168 Q258 164 258 158 Z"/>
 <path class="t" d="M260 108 L288 132 Q294 137 302 133 L352 107 M292 136 L292 188 M284 101 L296 96"/>
 <circle cx="270" cy="155" r="2.5" fill="#555"/>
 <path class="w" d="M175 250 V272 L190 276 V255 Z M215 244 V265 L235 262 V238 Z"/>
 <path class="w" d="M148 192 Q148 184 158 180 L205 160 Q214 157 222 162 L246 178 Q250 182 250 190 L248 228 Q246 236 238 240 L190 256 Q183 258 176 254 L152 240 Q148 236 148 230 Z"/>
 <path class="t" d="M150 188 L180 210 Q186 214 194 210 L250 184 M184 213 L184 256 M205 195 L225 188"/>
 <circle cx="165" cy="232" r="2.5" fill="#555"/>
 <path class="w" d="M365 62 L395 42 L430 62 L430 135 L405 150 L370 130 Z"/>
 <path class="t" d="M378 78 V135 M390 85 V142 M405 88 V150 M418 80 V142 M365 62 L400 82 L430 62 M400 82 V92"/>
 <path d="M414 72 H424 M419 67 V77" class="s"/>
 <path class="w" d="M362 215 Q365 190 395 190 Q432 192 435 230 L435 320 Q432 332 415 332 L395 330 Q385 328 385 315 L385 290 Q360 260 362 215 Z"/>
 <path class="w" d="M272 298 L285 290 L330 318 L330 330 L325 335 L325 362 L312 365 L312 345 L290 335 L290 348 L278 345 L278 325 L272 320 Z"/>
 <path class="t" d="M272 305 L318 330 L330 322 M318 330 V345"/>
</g>

<!-- cover 9, grommet 6, clip 7, gasket 8 : zoom region [150,100,278,260] scale 5.047 -->
<g transform="translate(150,100) scale(0.19814)">
 <path class="s" d="M158 632 Q152 650 170 662 L255 714 Q275 724 295 714 L565 554 Q580 542 568 528 L520 498"/>
 <path class="s" d="M172 636 L262 701 Q275 707 290 701 L553 547 Q562 538 553 530 L510 503"/>
 <path class="w" d="M148 425 Q145 410 165 396 L432 250 Q447 243 462 250 L560 302 Q573 310 573 328 L575 398 L586 408 L584 452 Q580 468 565 476 L275 625 Q255 632 240 625 L240 520 L150 470 Z"/>
 <path class="t" d="M150 438 L245 490 Q262 498 280 492 L548 347 Q568 335 572 318 M252 582 L575 400 M490 463 L586 410 M250 500 V620"/>
 <path class="w" d="M125 492 L150 476 L165 480 L175 496 L235 520 L242 532 L240 625 L215 640 L205 635 L205 600 L185 590 L185 618 L160 602 L130 590 Z"/>
 <path class="t" d="M150 476 L152 580 L160 600 M175 496 L175 560 L185 590 M215 535 L215 640 M135 500 L135 585"/>
 <path class="w" d="M300 160 Q270 175 272 220 Q280 255 310 258 L340 255 Q375 240 372 200 Q365 160 330 158 Z"/>
 <ellipse class="s" cx="338" cy="207" rx="34" ry="48" transform="rotate(12 338 207)"/>
 <path class="s" d="M352 193 Q335 180 322 205 Q318 232 345 228"/>
 <path class="w" d="M52 345 L130 290 L160 270 L185 268 L215 285 L218 315 L190 335 L150 335 L100 385 L82 380 L80 350 L55 375 Z"/>
 <path class="t" d="M80 350 L140 300 L140 345 M160 270 L160 300 L140 320 M185 268 L185 330 M185 305 H215 M185 315 H216 M185 325 H205 M195 295 V330 M205 290 V325 M100 385 L100 350 L150 310"/>
</g>

<!-- bottom harness 1 left : zoom region [60,760,220,890] scale 4.0375 -->
<g transform="translate(60,760) scale(0.24768)">
 <path class="w" d="M333 160 Q370 200 398 255 L386 272 Q360 215 320 175 Z"/>
 <path class="w" d="M215 266 Q300 295 392 256 L396 274 Q300 313 210 285 Z"/>
 <path class="w" d="M222 80 Q222 55 257 58 Q300 62 305 100 L305 125 L285 137 Q270 165 240 160 Q218 150 218 120 Z"/>
 <path class="w" d="M293 124 L318 140 L340 146 L346 164 L330 176 L310 168 L287 153 Q281 138 293 124 Z"/>
 <path class="t" d="M318 140 Q308 155 310 168"/>
 <path class="w" d="M52 192 Q52 180 65 175 L100 160 L172 190 Q182 195 180 210 L180 240 L142 262 L140 275 Q120 287 105 277 L60 252 Q50 245 52 192 Z"/>
 <path class="t" d="M78 198 L125 222 L165 203 M125 222 Q128 250 122 278"/>
 <path class="w" d="M150 230 L195 252 L215 260 L220 280 L202 292 L185 286 L150 268 Q140 250 150 230 Z"/>
 <path class="t" d="M195 252 Q185 268 186 286"/>
 <path class="w" d="M392 258 Q410 235 440 250 L600 325 Q630 335 622 360 Q612 388 590 385 L420 305 Q395 295 384 274 Z"/>
 <path class="t" d="M600 325 Q590 355 600 383"/>
 <path class="s" d="M628 340 Q640 352 632 366 Q624 382 640 392"/>
</g>
<!-- bottom harness 1 right + nut 2 : zoom region [200,830,360,960] scale 4.0375 -->
<g transform="translate(200,830) scale(0.24768)">
 <path class="w" d="M285 172 Q340 200 422 220 L416 238 Q340 215 290 190 Z"/>
 <path class="w" d="M278 188 Q310 240 288 300 Q270 340 287 372 L305 366 Q290 340 306 305 Q330 240 295 180 Z"/>
 <path class="w" d="M75 62 Q120 55 180 85 L260 130 Q300 150 300 165 L282 195 Q265 200 240 180 L160 135 L70 108 Q58 85 75 62 Z"/>
 <path class="t" d="M75 62 Q95 85 72 108 M272 140 Q285 160 270 196"/>
 <path class="w" d="M422 214 L445 224 L463 240 L456 258 L425 246 L415 235 Z"/>
 <path class="w" d="M455 252 Q455 232 500 215 Q520 210 540 225 L575 250 Q582 260 580 280 L578 320 Q570 342 545 345 L470 312 Q455 300 455 252 Z"/>
 <path class="t" d="M460 258 Q500 292 545 282 Q572 272 579 256"/>
 <path class="w" d="M298 362 L322 370 L340 385 L334 402 L304 392 L290 380 Z"/>
 <path class="w" d="M330 402 Q335 380 380 362 Q400 358 420 375 L450 395 Q460 410 458 430 L455 470 Q445 492 420 490 L345 456 Q330 445 330 402 Z"/>
 <path class="t" d="M335 408 Q375 442 420 432 Q447 422 456 406"/>
 <ellipse class="w" cx="50" cy="297" rx="33" ry="18" style="stroke-width:1.2"/>
 <path class="w" d="M28 295 L28 272 Q50 250 72 272 L72 295 Q50 310 28 295 Z"/>
 <ellipse class="s" cx="50" cy="272" rx="13" ry="7"/>
 <path class="t" d="M38 300 V280 M62 300 V280"/>
</g>

<!-- FWD arrow : zoom region [10,845,98,925] scale 7.34 -->
<g transform="translate(10,845) scale(0.13622)">
 <path d="M95 365 L205 185 L222 205 L440 93 L463 105 L463 245 L228 372 L225 430 Z" fill="#222" stroke="#222" stroke-width="1" stroke-linejoin="round"/>
 <path d="M113 352 L211 202 M232 216 L443 108" fill="none" stroke="#fff" stroke-width="1.1"/>
 <g transform="matrix(0.88 -0.40 -0.18 0.93 236 338)" fill="none" stroke-linejoin="miter" stroke-linecap="butt">
  <path d="M0 0 V-100 H58 M0 -52 H46 M70 -100 L86 0 L108 -78 L130 0 L146 -100 M162 0 V-100 H192 Q227 -100 227 -50 Q227 0 192 0 Z" stroke="#fff" stroke-width="2.5"/>
  <path d="M0 0 V-100 H58 M0 -52 H46 M70 -100 L86 0 L108 -78 L130 0 L146 -100 M162 0 V-100 H192 Q227 -100 227 -50 Q227 0 192 0 Z" stroke="#222" stroke-width="0.7"/>
 </g>
</g>

<!-- bolt 23 + bracket 22 bottom-left : zoom region [0,690,88,800] scale 7.34 -->
<g transform="translate(0,690) scale(0.13622)">
</g>
<g transform="translate(8,710) scale(0.0619)">
 <path class="w" d="M115 215 L160 120 L232 95 L300 122 L215 372 L150 322 L120 280 Z"/>
 <path class="t" d="M160 120 Q140 220 150 322"/>
 <ellipse class="w" cx="290" cy="250" rx="92" ry="140" transform="rotate(30 290 250)"/>
 <path class="w" d="M320 196 L562 332 L498 450 L256 308 Z"/>
 <ellipse class="s" cx="288" cy="252" rx="40" ry="66" transform="rotate(30 288 252)"/>
 <ellipse class="w" cx="530" cy="392" rx="40" ry="66" transform="rotate(30 530 392)"/>
 <path class="t" d="M345 222 Q318 275 283 318 M381 243 Q354 296 319 339 M417 264 Q390 317 355 360 M453 285 Q426 338 391 381 M489 306 Q462 359 427 402 M525 327 Q498 380 463 423"/>
</g>
<g transform="translate(0,690) scale(0.13622)">
 <path class="w" d="M345 400 L470 325 L505 335 Q520 345 518 380 L515 440 Q510 470 490 480 L410 522 L405 455 L385 440 L345 462 Z"/>
 <ellipse class="s" cx="457" cy="415" rx="24" ry="38" transform="rotate(32 457 415)"/>
 <path class="w" d="M255 530 Q255 505 280 495 L385 440 L410 455 L410 575 Q408 595 390 605 L300 655 Q275 660 260 640 Q250 600 255 530 Z"/>
 <ellipse class="s" cx="335" cy="560" rx="24" ry="38" transform="rotate(32 335 560)"/>
 <path class="t" d="M405 380 L365 405 L400 445 M268 560 L268 640 M440 440 Q460 440 475 400 M318 585 Q338 585 353 545"/>
</g>

<!-- bracket 22 + bolt 23 right-mid : zoom region [558,365,646,475] scale 7.34 -->
<g transform="translate(558,365) scale(0.13622)">
 <path class="w" d="M100 362 Q100 345 125 335 L150 340 L270 415 L272 445 L245 455 L215 475 L205 522 L112 458 Q96 440 100 362 Z"/>
 <ellipse class="s" cx="147" cy="432" rx="24" ry="36" transform="rotate(-30 147 432)"/>
 <path class="t" d="M128 340 L115 360 M150 455 Q170 460 175 440"/>
 <path class="w" d="M212 478 L290 475 L350 515 Q366 530 362 560 L352 648 L330 665 L300 660 L212 602 Q196 560 212 478 Z"/>
 <ellipse class="s" cx="275" cy="572" rx="24" ry="36" transform="rotate(-30 275 572)"/>
 <path class="t" d="M215 395 L250 412 L225 440 L258 452 M340 580 L338 655 M280 595 Q298 598 302 578"/>
</g>
<g transform="translate(606,398) scale(0.0619)">
 <path class="w" d="M470 228 L520 218 L592 290 L616 390 L566 458 L500 488 Z"/>
 <path class="t" d="M560 258 Q600 350 580 440"/>
 <ellipse class="w" cx="443" cy="358" rx="92" ry="140" transform="rotate(-26 443 358)"/>
 <path class="w" d="M178 434 L423 314 L477 426 L232 546 Z"/>
 <ellipse class="s" cx="450" cy="370" rx="40" ry="66" transform="rotate(-26 450 370)"/>
 <ellipse class="w" cx="205" cy="490" rx="40" ry="64" transform="rotate(-26 205 490)"/>
 <path class="t" d="M225 410 Q262 455 285 530 M259 393 Q296 438 319 513 M293 376 Q330 421 353 496 M327 359 Q364 404 387 479 M361 342 Q398 387 421 462 M395 325 Q432 370 455 445"/>
</g>

<g transform="translate(558,530) scale(0.0991)">
 <ellipse class="w" cx="285" cy="558" rx="42" ry="64" transform="rotate(35 285 558)" style="stroke-width:1.3"/>
 <ellipse class="s" cx="283" cy="560" rx="14" ry="34" transform="rotate(35 283 560)"/>
 <path class="w" d="M340 640 Q335 590 385 562 Q430 550 465 590 Q480 640 445 685 Q400 715 360 685 Z" style="stroke-width:1.3"/>
 <ellipse class="s" cx="418" cy="632" rx="18" ry="36" transform="rotate(30 418 632)"/>
 <path class="t" d="M385 562 Q365 600 372 660 L360 685 M372 660 L340 640 M465 590 Q440 570 410 575"/>
</g>


<!-- bracket 25 + bolt 23 right : zoom region [558,170,646,280] scale 7.34 -->
<g transform="translate(558,170) scale(0.13622)">
 <path class="w" d="M248 68 L270 58 L352 102 L362 130 L362 240 L350 268 L328 276 L318 302 L300 322 L300 345 L205 430 L160 415 L160 385 L245 180 Z"/>
 <path class="t" d="M248 178 L345 222 M262 75 L258 170 M215 360 Q235 335 250 360 M215 360 L215 400"/>
 <ellipse class="s" cx="300" cy="135" rx="18" ry="30" transform="rotate(-25 300 135)"/>
 <path class="w" d="M215 405 L300 350 L326 358 L268 470 L160 655 L95 668 L82 652 Z"/>
 <path class="t" d="M100 645 L215 430 M130 610 L150 580 L165 585 L145 612 Z"/>
</g>
<g transform="translate(598,212) scale(0.0743)">
 <path class="w" d="M420 160 Q470 148 520 215 L537 285 L500 362 L450 390 Q480 300 455 200 Z"/>
 <path class="t" d="M487 185 Q500 280 482 368"/>
 <ellipse class="w" cx="385" cy="272" rx="72" ry="122" transform="rotate(12 385 272)"/>
 <path class="w" d="M140 150 L392 205 L352 335 L128 268 Z"/>
 <path class="s" d="M392 205 Q420 270 352 335"/>
 <ellipse class="w" cx="135" cy="210" rx="24" ry="62" transform="rotate(12 135 210)"/>
 <path class="t" d="M178 160 Q212 228 166 282 M216 168 Q250 237 204 292 M254 176 Q288 246 242 302 M292 184 Q326 255 280 312 M330 192 Q364 264 318 322 M368 200 Q402 273 356 332"/>
</g>

<!-- ties 19 20 24 : zoom region [518,40,646,200] scale 5.047 -->
<g transform="translate(518,40) scale(0.19814)">
 <path class="w" d="M92 135 L92 495 L108 515 L125 495 L125 135 Z"/>
 <path class="t" d="M112 140 V500"/>
 <path class="t" d="M97 160 H111 M97 170 H111 M97 180 H111 M97 190 H111 M97 200 H111 M97 210 H111 M97 220 H111 M97 230 H111 M97 240 H111 M97 250 H111 M97 260 H111 M97 270 H111 M97 280 H111 M97 290 H111 M97 300 H111 M97 310 H111 M97 320 H111 M97 330 H111 M97 340 H111 M97 350 H111 M97 360 H111 M97 370 H111 M97 380 H111 M97 390 H111 M97 400 H111 "/>
 <path class="w" d="M75 105 L100 86 L126 96 L129 130 L106 141 L78 130 Z"/>
 <path class="t" d="M75 105 L98 115 L126 96 M98 115 L104 140 M70 112 L92 122 L90 135"/>
 <path class="w" d="M270 150 L272 505 L284 545 L296 505 L303 150 Z"/>
 <path class="t" d="M290 170 V505"/>
 <path class="t" d="M275 250 H289 M275 260 H289 M275 270 H289 M275 280 H289 M275 290 H289 M275 300 H289 M275 310 H289 M275 320 H289 M275 330 H289 M275 340 H289 M275 350 H289 M275 360 H289 M275 370 H289 M275 380 H289 M275 390 H289 M275 400 H289 M275 410 H289 M275 420 H289 M275 430 H289 M275 440 H289 M275 450 H289 M275 460 H289 M275 470 H289 M275 480 H289 M275 490 H289 M275 500 H289 "/>
 <path class="w" d="M238 102 L268 85 L300 100 L302 150 L270 162 L240 140 Z"/>
 <path class="t" d="M238 102 L270 118 L300 100 M270 118 L270 160 M245 130 L262 118"/>
 <path class="w" d="M522 128 Q465 150 465 215 L467 650 L482 686 L497 650 L498 215 Q500 175 548 150 Z"/>
 <path class="t" d="M487 215 Q490 170 535 145 M487 215 V650"/>
 <path class="t" d="M470 260 H486 M470 270 H486 M470 280 H486 M470 290 H486 M470 300 H486 M470 310 H486 M470 320 H486 M470 330 H486 M470 340 H486 M470 350 H486 M470 360 H486 M470 370 H486 M470 380 H486 M470 390 H486 M470 400 H486 M470 410 H486 M470 420 H486 M470 430 H486 M470 440 H486 M470 450 H486 M470 460 H486 M470 470 H486 M470 480 H486 M470 490 H486 M470 500 H486 M470 510 H486 M470 520 H486 M470 530 H486 M470 540 H486 M470 550 H486 M470 560 H486 M470 570 H486 M470 580 H486 M470 590 H486 M470 600 H486 M470 610 H486 M470 620 H486 M470 630 H486 M470 640 H486 "/>
 <path class="w" d="M518 108 L550 92 L582 104 L582 135 L552 150 L520 140 Z"/>
 <path class="t" d="M518 108 L548 120 L582 104 M548 120 L552 150"/>
 <ellipse class="t" cx="532" cy="125" rx="7" ry="9"/>
</g>

<!-- bolt23 top + bracket21 : zoom region [140,15,204,95] scale 10.09 -->
<g transform="translate(140,15) scale(0.0991)">
 <g class="w">
  <path d="M352 240 L352 400 Q393 420 436 400 L436 240 Z"/>
  <path class="t" d="M352 270 Q393 285 436 270 M352 290 Q393 305 436 290 M352 310 Q393 325 436 310 M352 330 Q393 345 436 330 M352 350 Q393 365 436 350 M352 370 Q393 385 436 370 M352 388 Q393 403 436 388"/>
  <ellipse cx="395" cy="200" rx="95" ry="42"/>
  <ellipse cx="395" cy="192" rx="88" ry="36" class="t"/>
  <path d="M318 190 L318 125 Q395 60 470 125 L470 190 Q395 235 318 190 Z"/>
  <path class="t" d="M345 205 L345 140 M440 205 L440 140 M318 130 Q395 185 470 130"/>
 </g>
 <path class="w" d="M95 495 L120 485 L240 560 L375 460 L400 455 L525 540 L525 562 L395 642 L390 690 L275 755 L95 640 Z"/>
 <path class="t" d="M270 545 L355 600 M120 485 L100 505 M395 642 L375 655 L372 690 M525 545 L420 608"/>
 <ellipse class="s" cx="155" cy="605" rx="30" ry="52" transform="rotate(-25 155 605)"/>
 <ellipse class="s" cx="390" cy="535" rx="52" ry="30" transform="rotate(-8 390 535)"/>
</g>

<g id="top"><path d="M381.5 530.6 L380.0 529.7 M380.3 531.2 L377.4 529.6 M379.1 531.9 L375.3 529.7 M377.8 532.6 L373.4 530.0 M376.6 533.3 L371.6 530.3 M375.4 533.9 L369.8 530.7 M374.1 534.6 L368.2 531.1 M372.9 535.3 L366.6 531.6 M371.7 536.0 L365.1 532.1 M370.5 536.6 L363.6 532.7 M369.2 537.3 L362.3 533.2 M368.0 538.0 L361.0 533.9 M366.8 538.7 L359.7 534.5 M365.6 539.3 L358.6 535.3 M364.3 540.0 L357.5 536.0 M363.1 540.7 L356.5 536.8 M361.9 541.4 L355.6 537.7 M360.7 542.0 L354.7 538.6 M359.4 542.7 L353.9 539.5 M358.2 543.4 L353.2 540.5 M357.0 544.1 L352.6 541.5 M355.7 544.7 L352.0 542.6 M354.5 545.4 L351.6 543.7 M353.3 546.1 L351.8 545.2 M344.0 554.0 L342.4 553.3 M342.8 554.8 L339.5 553.2 M341.6 555.5 L337.3 553.5 M340.5 556.3 L335.3 553.9 M339.3 557.1 L333.5 554.3 M338.1 557.9 L331.8 554.8 M337.0 558.6 L330.2 555.4 M335.8 559.4 L328.7 556.0 M334.6 560.2 L327.3 556.7 M333.5 560.9 L326.1 557.4 M332.3 561.7 L325.0 558.2 M331.1 562.5 L324.0 559.1 M329.9 563.3 L323.1 560.0 M328.8 564.0 L322.4 561.0 M327.6 564.8 L321.8 562.0 M326.4 565.6 L321.3 563.1 M325.3 566.3 L321.0 564.3 M324.1 567.1 L320.8 565.5 M322.9 567.9 L321.4 567.1 " fill="none" stroke="#505050" stroke-width="0.85"/>
<path d="M322.7 527.3 L323.4 533 M326.4 531 L327 536.6 M331 533.8 L331.4 540.3 M335.7 537.5 L336.2 543" fill="none" stroke="#555" stroke-width="0.9"/>
<path d="M283.5 491.5 Q283.5 498 288 498.5 Q292 497.5 292.5 493 M284 490.5 Q286 488 289 489" fill="none" stroke="#484848" stroke-width="1"/>
<ellipse cx="188.8" cy="704.8" rx="6.2" ry="2.8" transform="rotate(45 188.8 704.8)" fill="none" stroke="#484848" stroke-width="1"/>
<path d="M367.6 342.6 Q366 348 370.6 353" fill="none" stroke="#484848" stroke-width="1.1"/>
<path d="M299.5 405 L302.5 407.5 L301 410.5 M327.5 375.5 L330.5 378 L329.5 380.5 M198 583 L200.5 590 M207.5 597 L211 602.5 M197 590 L199 593" fill="none" stroke="#505050" stroke-width="0.9"/>
<path d="M248.7 391 L428 494 M452 507.8 L559.5 569.6 M566 573.3 L580.6 581.7" class="ld"/>
<path d="M441.6 439.6 C441.8 441.2 441.3 445.4 442.9 449.5 C444.4 453.6 448.1 460.0 450.9 464.3 C453.7 468.6 458.2 473.6 459.6 475.5" fill="none" stroke="#484848" stroke-width="4.15" stroke-linecap="butt"/>
<path d="M311.0 333.3 C310.4 334.3 308.1 337.6 307.3 339.5 C306.5 341.4 306.0 342.1 306.0 345.0 C306.0 347.9 306.5 352.9 307.3 357.0 C308.1 361.1 310.0 365.6 311.0 369.3 C312.0 373.0 313.1 377.6 313.5 379.2" fill="none" stroke="#484848" stroke-width="3.15" stroke-linecap="butt"/>
<path d="M388.6 401.0 C388.5 402.8 389.8 407.9 388.1 412.0 C386.5 416.1 382.3 423.8 378.7 425.7 C375.1 427.6 369.6 426.4 366.3 423.3 C363.0 420.2 361.0 413.4 358.9 407.0 C356.8 400.6 357.2 390.6 353.9 384.9 C350.6 379.1 342.1 374.8 339.0 372.5 C335.9 370.2 336.0 371.4 335.4 371.2" fill="none" stroke="#484848" stroke-width="3.15" stroke-linecap="butt"/>
<path d="M441.6 439.6 C441.8 441.2 441.3 445.4 442.9 449.5 C444.4 453.6 448.1 460.0 450.9 464.3 C453.7 468.6 458.2 473.6 459.6 475.5" fill="none" stroke="#fff" stroke-width="1.85" stroke-linecap="butt"/>
<path d="M311.0 333.3 C310.4 334.3 308.1 337.6 307.3 339.5 C306.5 341.4 306.0 342.1 306.0 345.0 C306.0 347.9 306.5 352.9 307.3 357.0 C308.1 361.1 310.0 365.6 311.0 369.3 C312.0 373.0 313.1 377.6 313.5 379.2" fill="none" stroke="#fff" stroke-width="0.85" stroke-linecap="butt"/>
<path d="M388.6 401.0 C388.5 402.8 389.8 407.9 388.1 412.0 C386.5 416.1 382.3 423.8 378.7 425.7 C375.1 427.6 369.6 426.4 366.3 423.3 C363.0 420.2 361.0 413.4 358.9 407.0 C356.8 400.6 357.2 390.6 353.9 384.9 C350.6 379.1 342.1 374.8 339.0 372.5 C335.9 370.2 336.0 371.4 335.4 371.2" fill="none" stroke="#fff" stroke-width="0.85" stroke-linecap="butt"/>
</g>
</svg>
</body></html>
